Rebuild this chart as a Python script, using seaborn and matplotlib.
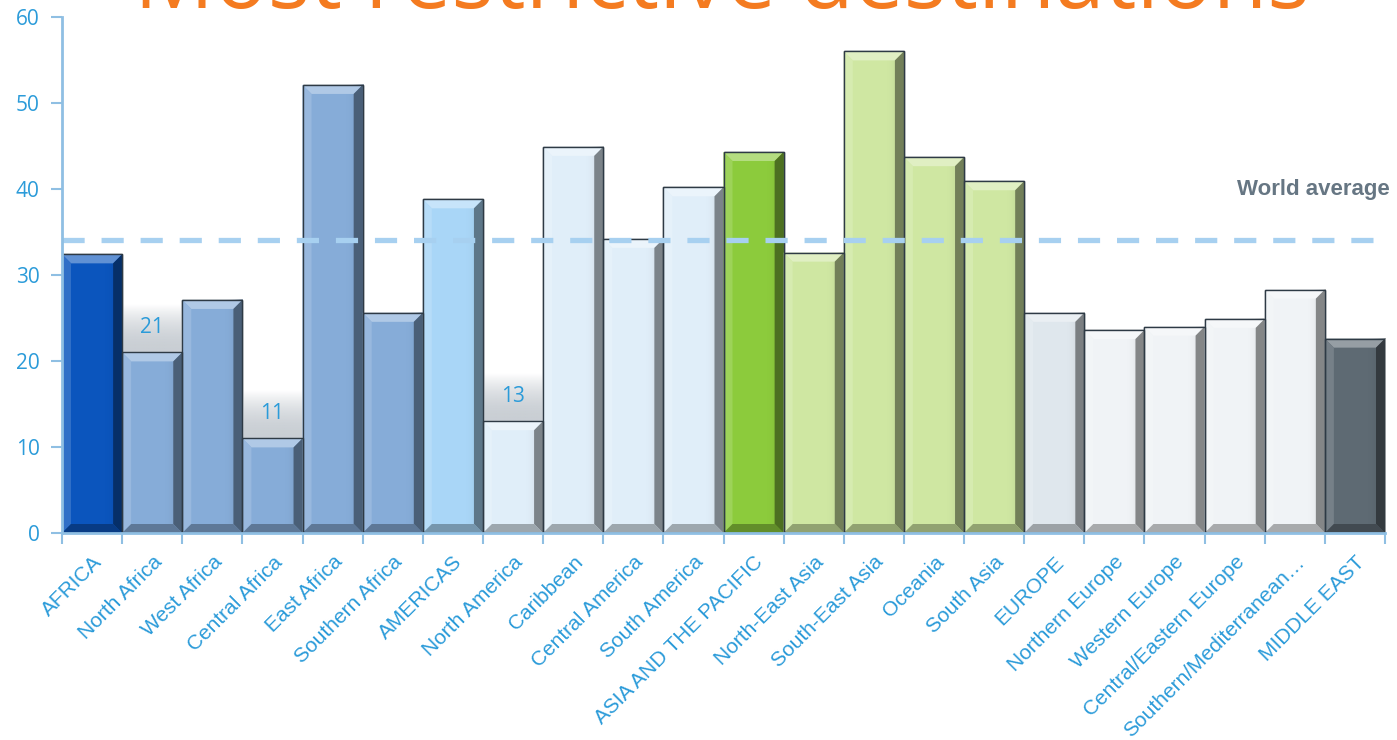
import matplotlib
matplotlib.use("Agg")
import matplotlib.pyplot as plt
import seaborn as sns
import numpy as np
import pandas as pd
from matplotlib import colors as mcolors
from matplotlib.patches import Polygon

regions = ["AFRICA", "North Africa", "West Africa", "Central Africa", "East Africa",
           "Southern Africa", "AMERICAS", "North America", "Caribbean", "Central America",
           "South America", "ASIA AND THE PACIFIC", "North-East Asia", "South-East Asia",
           "Oceania", "South Asia", "EUROPE", "Northern Europe", "Western Europe",
           "Central/Eastern Europe", "Southern/Mediterranean\u2026", "MIDDLE EAST"]
scores = [32.4, 21, 27.1, 11, 52.1, 25.6, 38.8, 13, 44.9, 34.2, 40.2,
          44.3, 32.6, 56.0, 43.7, 40.9, 25.6, 23.6, 24.0, 24.9, 28.3, 22.6]
bar_colors = ["#0b55bd", "#86acd8", "#86acd8", "#86acd8", "#86acd8", "#86acd8",
              "#a9d6f7", "#e0eef9", "#e0eef9", "#e0eef9", "#e0eef9",
              "#8ccb3c", "#cfe7a2", "#cfe7a2", "#cfe7a2", "#cfe7a2",
              "#dfe7ed", "#f0f3f6", "#f0f3f6", "#f0f3f6", "#f0f3f6", "#5e6a73"]
labelled = {"North Africa": "21", "Central Africa": "11", "North America": "13"}
world_average = 34.1
title = "Most restrictive destinations"
yticks = [0, 10, 20, 30, 40, 50, 60]

sns.set_theme(style="white")
plt.rcParams["font.family"] = ["Liberation Sans", "DejaVu Sans"]

blue_text = "#2b9bd9"
axis_blue = "#8fbfe3"

df = pd.DataFrame({"region": regions, "score": scores})

W, H = 1397, 740
fig = plt.figure(figsize=(W / 100, H / 100), dpi=100)
ax = fig.add_axes([62 / W, 207 / H, 1323 / W, 516 / H])

sns.barplot(data=df, x="region", y="score", hue="region", palette=bar_colors,
            legend=False, width=1.0, saturation=1.0, ax=ax,
            edgecolor="#2e3a45", linewidth=1.0)

ax.set_xlim(-0.5, len(regions) - 0.5)
ax.set_ylim(0, 60)
ax.set_xlabel("")
ax.set_ylabel("")


def shade(c, f):
    r = np.array(mcolors.to_rgb(c))
    if f >= 0:
        r = r + (1 - r) * f
    else:
        r = r * (1 + f)
    return tuple(np.clip(r, 0, 1))


# bevelled look for every bar
px_x = (len(regions)) / 1323.0      # data units per pixel horizontally
px_y = 60.0 / 516.0                 # data units per pixel vertically
bx, by = 9 * px_x, 9 * px_y
for patch in list(ax.patches):
    x0 = patch.get_x()
    w = patch.get_width()
    h = patch.get_height()
    if h <= 0:
        continue
    fc = patch.get_facecolor()
    x1 = x0 + w
    # soft darkening towards the right side
    grad = np.linspace(0, 1, 64)[None, :] ** 3
    base = np.array(mcolors.to_rgb(fc))
    img = np.zeros((1, 64, 4))
    img[..., :3] = base * 0.55
    img[..., 3] = grad * 0.55
    ax.imshow(img, extent=(x1 - 0.35, x1, 0, h), aspect="auto", zorder=2.1,
              interpolation="bilinear")
    top = Polygon([(x0, h), (x1, h), (x1 - bx, h - by), (x0 + bx, h - by)],
                  closed=True, facecolor=shade(fc, 0.35), edgecolor="none", zorder=2.2)
    left = Polygon([(x0, 0), (x0, h), (x0 + bx, h - by), (x0 + bx, by)],
                   closed=True, facecolor=shade(fc, 0.15), edgecolor="none", zorder=2.2)
    right = Polygon([(x1, 0), (x1, h), (x1 - bx, h - by), (x1 - bx, by)],
                    closed=True, facecolor=shade(fc, -0.45), edgecolor="none", zorder=2.2)
    bottom = Polygon([(x0, 0), (x1, 0), (x1 - bx, by), (x0 + bx, by)],
                     closed=True, facecolor=shade(fc, -0.3), edgecolor="none", zorder=2.2)
    for p in (top, left, right, bottom):
        ax.add_patch(p)
    ax.add_patch(plt.Rectangle((x0, 0), w, h, facecolor="none",
                               edgecolor="#2e3a45", lw=1.0, zorder=2.3))

# value labels on the three lowest sub-regions, on a soft grey backdrop
for i, r in enumerate(regions):
    if r in labelled:
        v = scores[i]
        g = np.linspace(1, 0, 64)[:, None] ** 2
        img = np.ones((64, 1, 4))
        img[..., :3] = np.array(mcolors.to_rgb("#c3c9cf"))
        img[..., 3] = (1 - g) * 0.9
        ax.imshow(img, extent=(i - 0.5, i + 0.5, v, v + 5.5), aspect="auto",
                  zorder=1.5, interpolation="bilinear", origin="upper")
        ax.text(i, v + 1.7, labelled[r], ha="center", va="bottom",
                color=blue_text, fontsize=15, family="Open Sans", zorder=4)

# world average reference line
ax.axhline(world_average, color="#a7d0f0", lw=3.8, dashes=(4.2, 3.2), zorder=3)
ax.text(len(regions) - 0.42, 40.0, "World average", ha="right", va="center",
        color="#667683", fontsize=16, fontweight="bold")

# axes styling
for s in ["top", "right"]:
    ax.spines[s].set_visible(False)
for s in ["left", "bottom"]:
    ax.spines[s].set_color(axis_blue)
    ax.spines[s].set_linewidth(2)
    ax.spines[s].set_zorder(5)

ax.set_yticks(yticks)
ax.set_yticklabels([str(v) for v in yticks], family="Open Sans", fontsize=15, color=blue_text)
ax.tick_params(axis="y", left=True, length=8, width=1.5, color=axis_blue, pad=8)

ax.set_xticks(range(len(regions)))
ax.set_xticklabels(regions, rotation=45, ha="right", rotation_mode="anchor",
                   fontsize=15, color=blue_text)
ax.tick_params(axis="x", which="major", length=0, pad=14)
ax.set_xticks(np.arange(-0.5, len(regions), 1.0), minor=True)
ax.tick_params(axis="x", which="minor", bottom=True, length=8, width=1.5, color=axis_blue)

# title, partly running off the top edge
t = fig.text(722 / W, 1 - 8 / H, title, ha="center", va="baseline", color="#f47b20",
             fontsize=60, family="Open Sans")
fig.canvas.draw()
bb = t.get_window_extent()
t.set_fontsize(60 * 1175 / bb.width)

fig.savefig("out.png", dpi=100)
